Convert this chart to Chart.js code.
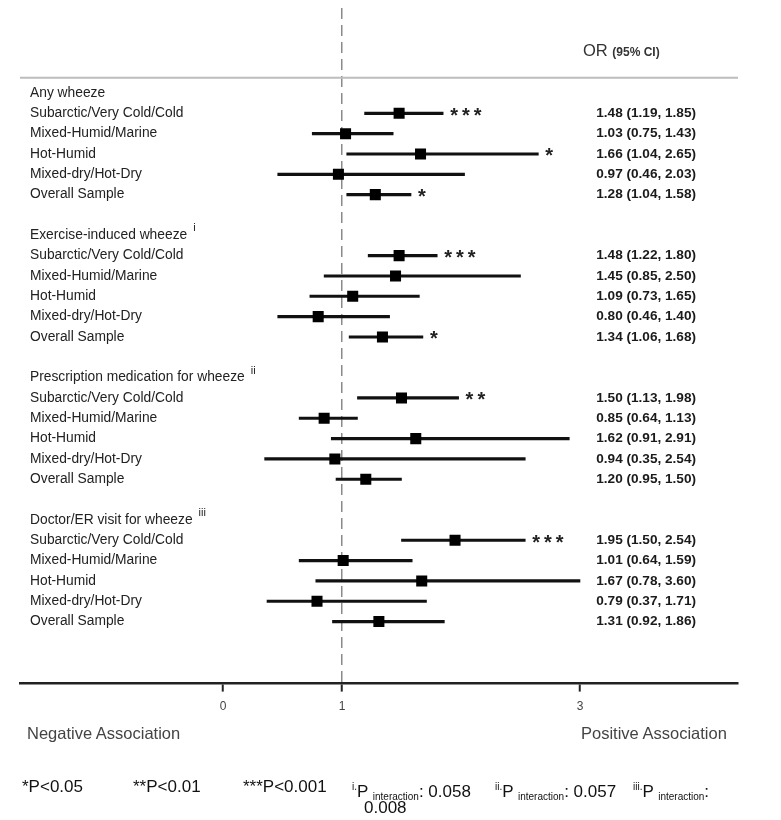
<!DOCTYPE html>
<html>
<head>
<meta charset="utf-8">
<script src="https://cdn.jsdelivr.net/npm/chart.js@4.4.1/dist/chart.umd.min.js"></script>
<style>
    body { margin: 0; background: #fff; }
    #wrap { position: relative; width: 781px; height: 820px; font-family: 'Liberation Sans', Arial, sans-serif; }
    #forest { position: absolute; left: 0; top: 0; }
    .t { position: absolute; white-space: nowrap; line-height: 20px; color: #333; }
    .foot { font-size: 17px; color: #111; }
    .foot sup, .foot sub { font-size: 10px; }
    .foot sub { vertical-align: -3px; }
    .foot sup { vertical-align: 7px; }
</style>
</head>
<body>
<div id="wrap">
    <canvas id="forest" width="781" height="820"></canvas>
    <div class="t" style="left:583px;top:40px;font-size:16.5px">OR <span style="font-size:12px;font-weight:bold">(95% CI)</span></div>
    <div class="t" style="left:27px;top:723px;font-size:16.5px;color:#444">Negative Association</div>
    <div class="t" style="left:581px;top:723px;font-size:16.5px;color:#444">Positive Association</div>
    <div class="t foot" style="left:22px;top:777px">*P&lt;0.05</div>
    <div class="t foot" style="left:133px;top:777px">**P&lt;0.01</div>
    <div class="t foot" style="left:243px;top:777px">***P&lt;0.001</div>
    <div class="t foot" style="left:352px;top:777px"><sup>i.</sup>P <sub>interaction</sub>: 0.058</div>
    <div class="t foot" style="left:495px;top:777px"><sup>ii.</sup>P <sub>interaction</sub>: 0.057</div>
    <div class="t foot" style="left:633px;top:777px"><sup>iii.</sup>P <sub>interaction</sub>:</div>
    <div class="t foot" style="left:364px;top:798px">0.008</div>
</div>
<script>
const groups = ['Any wheeze', 'Exercise-induced wheeze', 'Prescription medication for wheeze', 'Doctor/ER visit for wheeze'];
const groupNotes = ['', 'i', 'ii', 'iii'];
const regions = ['Subarctic/Very Cold/Cold', 'Mixed-Humid/Marine', 'Hot-Humid', 'Mixed-dry/Hot-Dry', 'Overall Sample'];

// one entry per group x region, same order as above
const oddsRatio = [
    1.48, 1.03, 1.66, 0.97, 1.28,
    1.48, 1.45, 1.09, 0.80, 1.34,
    1.50, 0.85, 1.62, 0.94, 1.20,
    1.95, 1.01, 1.67, 0.79, 1.31
];
const ciLow = [
    1.19, 0.75, 1.04, 0.46, 1.04,
    1.22, 0.85, 0.73, 0.46, 1.06,
    1.13, 0.64, 0.91, 0.35, 0.95,
    1.50, 0.64, 0.78, 0.37, 0.92
];
const ciHigh = [
    1.85, 1.43, 2.65, 2.03, 1.58,
    1.80, 2.50, 1.65, 1.40, 1.68,
    1.98, 1.13, 2.91, 2.54, 1.50,
    2.54, 1.59, 3.60, 1.71, 1.86
];
const stars = [
    '***', '', '*', '', '*',
    '***', '', '', '', '*',
    '**', '', '', '', '',
    '***', '', '', '', ''
];
const xTicks = [0, 1, 3];

const FONT = "'Liberation Sans', Arial, sans-serif";
Chart.defaults.font.family = FONT;

// rows of the plot: two header rows, then each group with a blank row between
const rowLabels = ['', ''];
const rowOf = [];
const headerRows = [];
groups.forEach((g, gi) => {
    if (gi > 0) rowLabels.push('');
    headerRows.push(rowLabels.length);
    rowLabels.push(g);
    regions.forEach(r => {
        rowOf.push(rowLabels.length);
        rowLabels.push(r);
    });
});

const xCap = xTicks[xTicks.length - 1];

const annotations = {
    id: 'annotations',
    afterDatasetsDraw(chart) {
        const { ctx, chartArea, scales: { x, y } } = chart;
        ctx.save();

        // grey rule under the column header
        const sepY = y.getPixelForValue(1.25);
        ctx.strokeStyle = '#bdbdbd';
        ctx.lineWidth = 2;
        ctx.beginPath();
        ctx.moveTo(chartArea.left, sepY);
        ctx.lineTo(chartArea.right, sepY);
        ctx.stroke();

        // significance stars
        ctx.fillStyle = '#222';
        ctx.textBaseline = 'middle';
        ctx.textAlign = 'left';
        ctx.font = 'bold 20px ' + FONT;
        ctx.letterSpacing = '4px';
        stars.forEach((s, i) => {
            if (!s) return;
            const hx = x.getPixelForValue(Math.min(ciHigh[i], xCap));
            ctx.fillText(s, hx + 7, y.getPixelForValue(rowOf[i]) + 3);
        });
        ctx.letterSpacing = '0px';

        // OR (95% CI) column
        ctx.textAlign = 'right';
        ctx.fillStyle = '#1a1a1a';
        ctx.font = 'bold 13.6px ' + FONT;
        oddsRatio.forEach((v, i) => {
            const txt = `${v.toFixed(2)} (${ciLow[i].toFixed(2)}, ${ciHigh[i].toFixed(2)})`;
            ctx.fillText(txt, chartArea.right - 42, y.getPixelForValue(rowOf[i]));
        });

        // superscript notes on group headers
        ctx.textAlign = 'left';
        ctx.fillStyle = '#222';
        headerRows.forEach((r, gi) => {
            if (!groupNotes[gi]) return;
            ctx.font = '13.8px ' + FONT;
            const w = ctx.measureText(groups[gi]).width;
            ctx.font = '11px ' + FONT;
            ctx.fillText(groupNotes[gi], chartArea.left + 10 + w + 6, y.getPixelForValue(r) - 7);
        });
        ctx.restore();
    }
};

new Chart(document.getElementById('forest'), {
    type: 'bar',
    data: {
        datasets: [
            {
                type: 'bar',
                data: rowOf.map((r, i) => ({ x: [ciLow[i], Math.min(ciHigh[i], xCap)], y: r })),
                backgroundColor: '#111',
                borderWidth: 0,
                barThickness: 2.5,
                order: 2
            },
            {
                type: 'scatter',
                data: rowOf.map((r, i) => ({ x: oddsRatio[i], y: r })),
                pointStyle: 'rect',
                pointRadius: 7.8,
                backgroundColor: '#000',
                borderWidth: 0,
                order: 1
            }
        ]
    },
    options: {
        indexAxis: 'y',
        responsive: false,
        animation: false,
        layout: { padding: { left: 20, right: 43, top: 8, bottom: 98 } },
        plugins: { legend: { display: false }, tooltip: { enabled: false } },
        scales: {
            x: {
                type: 'linear',
                min: -1.706,
                max: 4.328,
                afterBuildTicks: s => { s.ticks = xTicks.map(v => ({ value: v })); },
                grid: {
                    color: c => (c.tick && c.tick.value === 1 ? '#8a8a8a' : 'rgba(0,0,0,0)'),
                    lineWidth: 1.5,
                    tickColor: '#222',
                    tickWidth: 2,
                    tickLength: 8
                },
                border: { color: '#222', width: 2.5, dash: [11, 6] },
                ticks: { color: '#444', font: { size: 12 }, padding: 8 }
            },
            y: {
                type: 'linear',
                reverse: true,
                min: -2.18,
                max: 31.05,
                offset: false,
                afterBuildTicks: s => {
                    s.ticks = rowLabels.map((l, i) => ({ value: i })).filter(t => rowLabels[t.value]);
                },
                afterFit: s => { s.width = 0; s.paddingTop = 0; s.paddingBottom = 0; },
                grid: { display: false, drawTicks: false },
                border: { display: false },
                ticks: {
                    mirror: true,
                    padding: 10,
                    autoSkip: false,
                    color: '#222',
                    font: { size: 13.8 },
                    callback: v => rowLabels[v]
                }
            }
        }
    },
    plugins: [annotations]
});
</script>
</body>
</html>
